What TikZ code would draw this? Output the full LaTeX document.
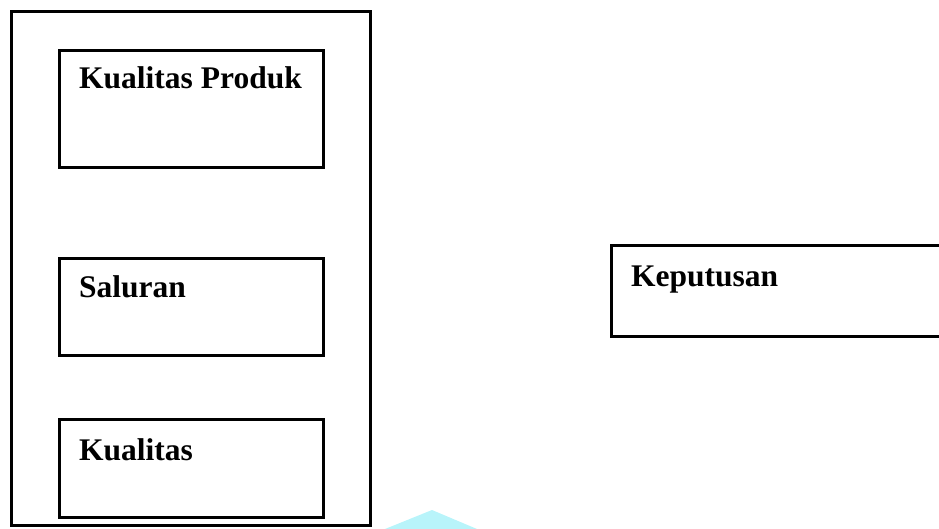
\documentclass[tikz,border=0pt]{standalone}
\usepackage{fontspec}
\setmainfont{Liberation Serif}
\usepackage{xcolor}
\usetikzlibrary{positioning}
\definecolor{ink}{HTML}{000000}
\definecolor{wmark}{HTML}{B8F4FA}
\tikzset{
  frame/.style={draw=ink,line width=3pt,inner sep=0pt},
  factor/.style={draw=ink,line width=3pt,inner sep=0pt,minimum width=264pt},
  factortext/.style={anchor=base west,inner sep=0pt,text=ink,
                     font=\fontsize{31.5}{36}\selectfont\bfseries}
}
\begin{document}
\begin{tikzpicture}[x=1pt,y=-1pt]
    \clip (0,0) rectangle (939,529);

    % faint mark along the lower edge
    \fill[wmark] (385,529) -- (432,510) -- (477,529) -- cycle;

    % group of independent variables
    \node[frame,minimum width=359pt,minimum height=514pt] (group) at (191,268.5) {};

    \node[factor,minimum height=117pt] (produk) at (191.5,109) {};
    \node[factortext] (produktext) at (79,89) {Kualitas Produk};

    \node[factor,minimum height=97pt] (saluran) at (191.5,307) {};
    \node[factortext] (salurantext) at (79,297) {Saluran};

    \node[factor,minimum height=98pt] (kualitas) at (191.5,468.5) {};
    \node[factortext] (kualitastext) at (79,460) {Kualitas};

    % dependent variable, runs off the right edge
    \node[frame,minimum width=360pt,minimum height=91pt] (keputusan) at (791.5,291) {};
    \node[factortext] (keputusantext) at (631,286) {Keputusan};
  \end{tikzpicture}
\end{document}
